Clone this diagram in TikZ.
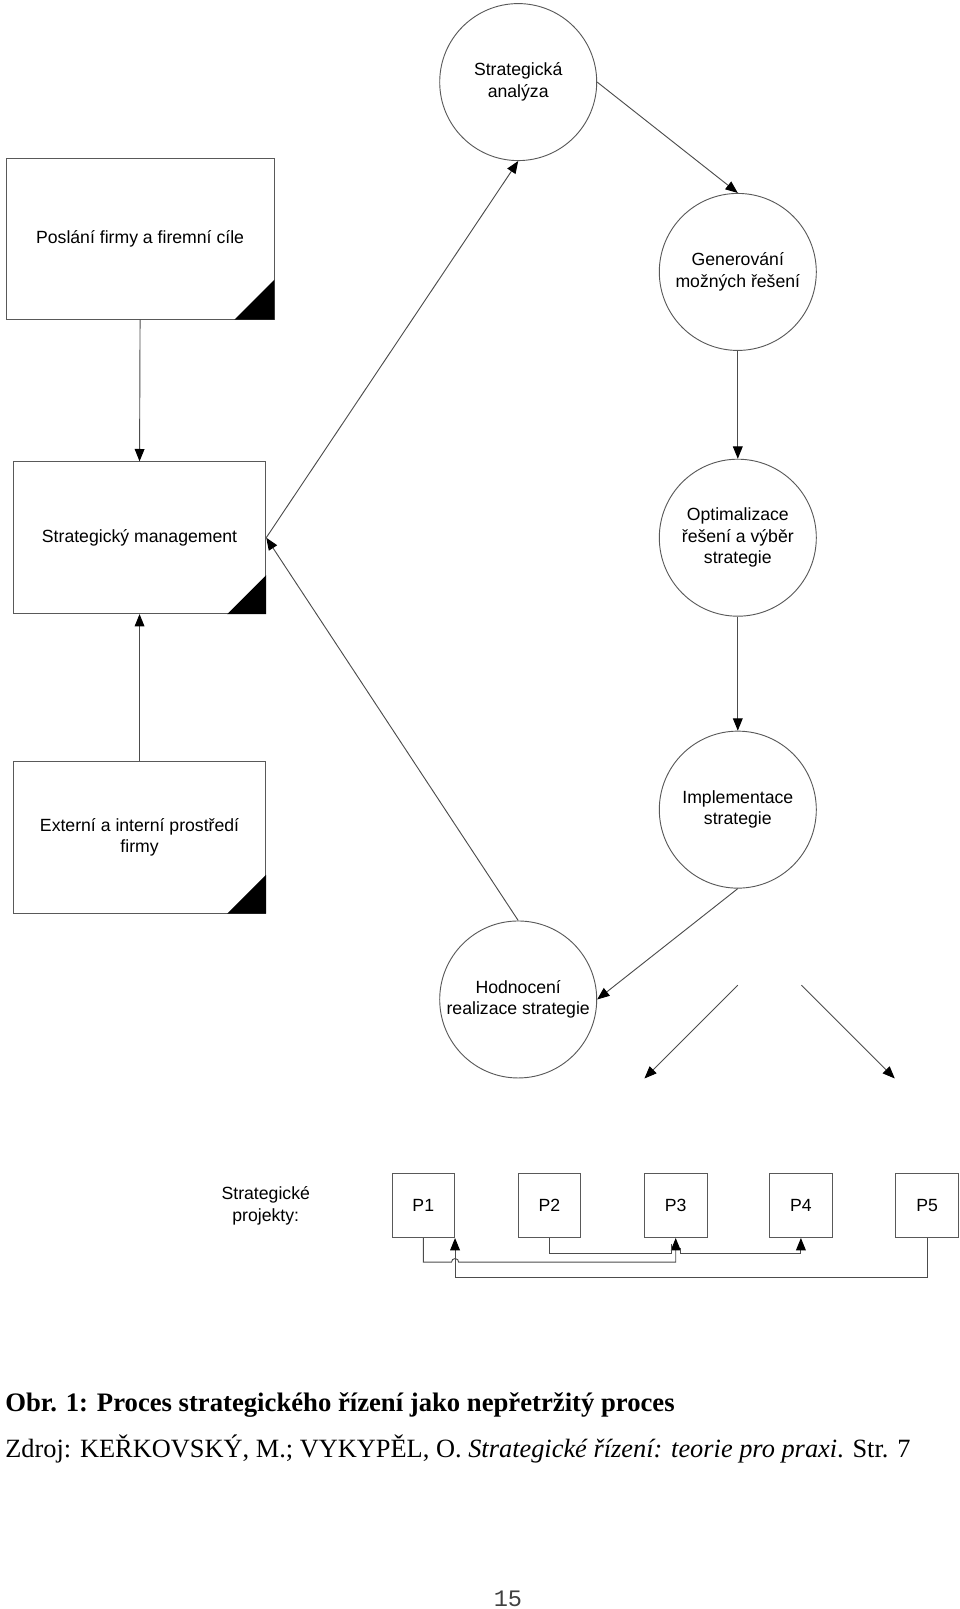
\documentclass[tikz,border=0pt]{standalone}
\usepackage{fontspec}
\setmainfont{Liberation Serif}
\setsansfont{Liberation Sans}
\setmonofont{Liberation Mono}
\usetikzlibrary{arrows.meta}

\tikzset{
  krok/.style={circle, draw=black!65, line width=0.9pt, minimum size=153pt,
    inner sep=0pt, align=center, font=\sffamily\fontsize{17.2}{21}\selectfont},
  blok/.style={rectangle, draw=black!65, line width=0.9pt, inner sep=0pt,
    align=center, font=\sffamily\fontsize{17.2}{21}\selectfont},
  popis/.style={inner sep=0pt, align=center, font=\sffamily\fontsize{17.2}{21}\selectfont},
  sipka/.style={draw=black!70, line width=0.9pt, -{Triangle[length=12pt,width=9.5pt,color=black]}},
  spoj/.style={draw=black!70, line width=0.9pt},
}

\begin{document}
\begin{tikzpicture}[x=1pt,y=-1pt]
    \useasboundingbox (0,0) rectangle (935.5,1568);

    % cyklus
    \node[krok] (analyza) at (505,80) {Strategická\\analýza};
    \node[krok] (generovani) at (719,265) {Generování\\možných řešení};
    \node[krok] (optimalizace) at (719,524) {Optimalizace\\řešení a výběr\\strategie};
    \node[krok] (implementace) at (719,789) {Implementace\\strategie};
    \node[krok] (hodnoceni) at (505,974) {Hodnocení\\realizace strategie};

    % bloky vlevo
    \node[blok, minimum width=261pt, minimum height=157pt] (poslani) at (136.5,232.5) {Poslání firmy a firemní cíle};
    \node[blok, minimum width=246pt, minimum height=148pt] (management) at (136,524) {Strategický management};
    \node[blok, minimum width=246pt, minimum height=148pt] (prostredi) at (136,816) {Externí a interní prostředí\\firmy};
    \fill ([xshift=-39pt]poslani.south east) -- (poslani.south east) -- ([yshift=39pt]poslani.south east) -- cycle;
    \fill ([xshift=-38pt]management.south east) -- (management.south east) -- ([yshift=38pt]management.south east) -- cycle;
    \fill ([xshift=-38pt]prostredi.south east) -- (prostredi.south east) -- ([yshift=38pt]prostredi.south east) -- cycle;

    % projekty
    \node[popis] (projekty) at (259,1175) {Strategické\\projekty:};
    \node[blok, minimum width=61pt, minimum height=62pt] (p1) at (412.5,1175) {P1};
    \node[blok, minimum width=61pt, minimum height=62pt] (p2) at (535.5,1175) {P2};
    \node[blok, minimum width=61pt, minimum height=62pt] (p3) at (658.5,1175) {P3};
    \node[blok, minimum width=61pt, minimum height=62pt] (p4) at (780.5,1175) {P4};
    \node[blok, minimum width=61pt, minimum height=62pt] (p5) at (903.5,1175) {P5};

    \coordinate (vetev1) at (719,960);
    \coordinate (konec1) at (628,1051);
    \coordinate (vetev2) at (781,960);
    \coordinate (konec2) at (872,1051);

    % sipky
    \draw[sipka] (poslani.south) -- (management.north);
    \draw[sipka] (prostredi.north) -- (management.south);
    \draw[sipka] (management.east) -- (analyza.south);
    \draw[sipka] (analyza.east) -- (generovani.north);
    \draw[sipka] (generovani.south) -- (optimalizace.north);
    \draw[sipka] (optimalizace.south) -- (implementace.north);
    \draw[sipka] (implementace.south) -- (hodnoceni.east);
    \draw[sipka] (hodnoceni.north) -- (management.east);
    \draw[sipka] (vetev1) -- (konec1);
    \draw[sipka] (vetev2) -- (konec2);

    \draw[sipka] (p5.south) -- ++(0,38) -| (p1.south east);
    \draw[sipka] (p1.south) -- ++(0,23.5) -- ++(27.5,0)
        arc (180:360:3.5) -| (p3.south);
    \draw[spoj] (p2.south) -- ++(0,15) -| ([xshift=-4pt,yshift=-6pt]p3.south);
    \draw[sipka] ([xshift=5pt,yshift=-10pt]p3.south) -- ++(0,5) -| (p4.south);

    % titulek
    \node[anchor=base west, inner sep=0pt, font=\bfseries\fontsize{26}{30}\selectfont] (obr) at (5,1376)
        {Obr. 1: Proces strategického řízení jako nepřetržitý proces};
    \node[anchor=base west, inner sep=0pt, font=\fontsize{25.7}{30}\selectfont] (zdroj) at (5,1420)
        {Zdroj: KEŘKOVSKÝ, M.; VYKYPĚL, O. \textit{Strategické řízení: teorie pro praxi}. Str. 7};
    \node[anchor=base, inner sep=0pt, text=black!75, font=\ttfamily\fontsize{23}{26}\selectfont] (strana) at (495,1566) {15};
\end{tikzpicture}
\end{document}
